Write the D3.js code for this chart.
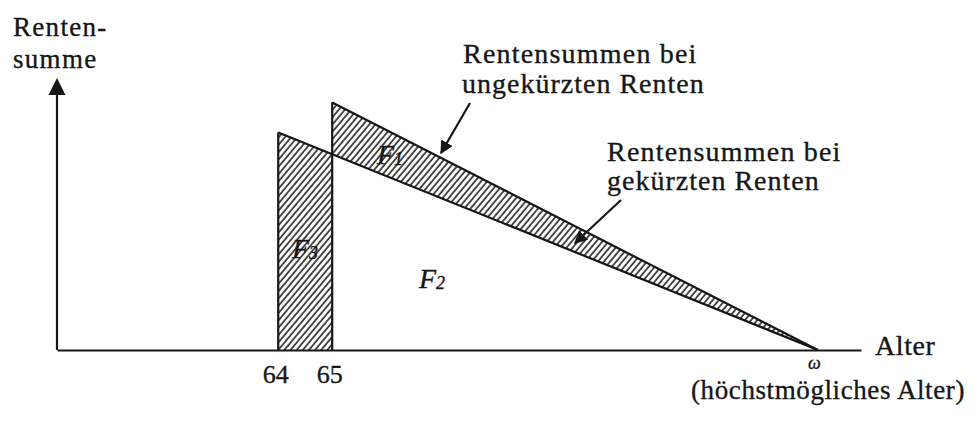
<!DOCTYPE html>
<html>
<head>
<meta charset="utf-8">
<script src="https://cdn.jsdelivr.net/npm/d3@7"></script>
<style>
    body { margin: 0; background: #fff; }
    svg { display: block; font-family: 'Liberation Serif', 'DejaVu Serif', serif; }
    .ink { stroke: #161616; fill: none; stroke-width: 2.2; }
    text { fill: #161616; stroke: #161616; stroke-width: 0.35; }
</style>
</head>
<body>
<svg id="chart" width="978" height="421"></svg>
<script>
// Data (Rentensumme in arbitrary units 0..100)
const ageRange = [59.9, 74.8];          // visible part of the age axis
const sumRange = [0, 100];              // visible part of the sum axis
const tickAges = [64, 65, 74];
const tickLabels = ['64', '65', 'ω'];
const ungekuerzt = [{ age: 65, sum: 91 }, { age: 74, sum: 0 }];   // Rentensummen bei ungekürzten Renten
const gekuerzt = [{ age: 64, sum: 80 }, { age: 74, sum: 0 }];     // Rentensummen bei gekürzten Renten

const chart = (function () {

    let d3svg = d3.select('#chart'),
        xScale = d3.scaleLinear().domain(ageRange).range([57, 861]),
        yScale = d3.scaleLinear().domain(sumRange).range([350, 78]),
        line = d3.line().x((d) => xScale(d.age)).y((d) => yScale(d.sum))
    ;

    // sum on the shortened line at a given age
    function gekuerztAt(age) {
        let t = (age - gekuerzt[0].age) / (gekuerzt[1].age - gekuerzt[0].age);
        return gekuerzt[0].sum + t * (gekuerzt[1].sum - gekuerzt[0].sum);
    }

    // Hatch pattern
    let defs = d3svg.append('defs');
    defs.append('pattern')
        .attr('id', 'hatch')
        .attr('patternUnits', 'userSpaceOnUse')
        .attr('width', 4.7)
        .attr('height', 10)
        .attr('patternTransform', 'rotate(40)')
        .append('line')
        .attr('x1', 1).attr('y1', 0)
        .attr('x2', 1).attr('y2', 10)
        .attr('stroke', '#161616')
        .attr('stroke-width', 1.5);

    defs.append('marker')
        .attr('id', 'tip')
        .attr('viewBox', '0 0 10 10')
        .attr('refX', 9).attr('refY', 5)
        .attr('markerWidth', 6).attr('markerHeight', 6)
        .attr('markerUnits', 'strokeWidth')
        .attr('orient', 'auto')
        .append('path')
        .attr('d', 'M0,0L10,5L0,10Z')
        .attr('fill', '#161616');

    // Hatched areas F3 (64..65) and F1 (between both lines from 65 on)
    let a0 = gekuerzt[0].age, a1 = ungekuerzt[0].age, end = ungekuerzt[1].age;
    let f3 = [
        { age: a0, sum: 0 }, { age: a0, sum: gekuerzt[0].sum },
        { age: a1, sum: gekuerztAt(a1) }, { age: a1, sum: 0 }
    ];
    let f1 = [
        { age: a1, sum: ungekuerzt[0].sum }, { age: end, sum: 0 },
        { age: a1, sum: gekuerztAt(a1) }
    ];
    d3svg.append('path').datum(f3).attr('d', (d) => line(d) + 'Z').attr('fill', 'url(#hatch)');
    d3svg.append('path').datum(f1).attr('d', (d) => line(d) + 'Z').attr('fill', 'url(#hatch)');

    // x axis (baseline)
    let xAxis = d3.axisBottom(xScale)
        .tickValues(tickAges)
        .tickFormat((d, i) => tickLabels[i])
        .tickSize(0)
        .tickSizeOuter(0);
    let gx = d3svg.append('g').attr('transform', 'translate(0,' + yScale(0) + ')').call(xAxis);
    gx.select('.domain').attr('stroke', '#161616').attr('stroke-width', 2.2);
    gx.selectAll('.tick text')
        .attr('font-family', "'Liberation Serif', serif")
        .attr('fill', '#161616')
        .attr('dy', 0)
        .attr('y', (d, i) => tickLabels[i] === 'ω' ? 19 : 33)
        .attr('dx', (d, i) => tickLabels[i] === 'ω' ? -4 : -3)
        .attr('font-size', (d, i) => tickLabels[i] === 'ω' ? 18 : 26)
        .attr('font-style', (d, i) => tickLabels[i] === 'ω' ? 'italic' : 'normal');

    // y axis with arrow head
    let yTop = yScale(sumRange[1]);
    d3svg.append('line').attr('class', 'ink')
        .attr('x1', xScale(ageRange[0])).attr('x2', xScale(ageRange[0]))
        .attr('y1', yScale(0)).attr('y2', yTop + 14);
    d3svg.append('path')
        .attr('d', 'M' + xScale(ageRange[0]) + ',' + yTop + 'l8.5,17h-17Z')
        .attr('fill', '#161616');

    // Lines
    d3svg.append('path').datum(gekuerzt).attr('class', 'ink').attr('d', line);
    d3svg.append('path').datum(ungekuerzt).attr('class', 'ink').attr('d', line);
    d3svg.append('path').datum([{ age: a0, sum: 0 }, gekuerzt[0]]).attr('class', 'ink').attr('d', line);
    d3svg.append('path').datum([{ age: a1, sum: 0 }, ungekuerzt[0]]).attr('class', 'ink').attr('d', line);

    // Labels
    function label(txt, x, y, size, spacing, anchor) {
        return d3svg.append('text')
            .attr('x', x).attr('y', y)
            .attr('font-size', size)
            .attr('letter-spacing', spacing)
            .attr('text-anchor', anchor || 'start')
            .text(txt);
    }
    label('Renten-', 13, 36, 27, 1.3);
    label('summe', 13, 68, 27, 1.3);
    label('Rentensummen bei', 463, 63, 28, 1.2);
    label('ungekürzten Renten', 462, 93, 28, 1.0);
    label('Rentensummen bei', 607, 161, 28, 1.2);
    label('gekürzten Renten', 607, 190, 28, 1.0);
    label('Alter', 875, 355, 28, 0.6);
    label('(höchstmögliches Alter)', 965, 399, 27, 0.6, 'end');

    // Area names
    function areaName(sub, x, y) {
        let t = d3svg.append('text').attr('x', x).attr('y', y)
            .attr('font-size', 28).attr('font-style', 'italic');
        t.append('tspan').text('F');
        t.append('tspan').attr('font-size', 18).attr('dy', 1).text(sub);
    }
    areaName('1', 377, 164);
    areaName('2', 419, 288);
    areaName('3', 292, 258);

    // Pointer arrows
    d3svg.append('line').attr('class', 'ink').attr('stroke-width', 1.8)
        .attr('x1', 470).attr('y1', 103).attr('x2', 441).attr('y2', 153)
        .attr('marker-end', 'url(#tip)');
    d3svg.append('line').attr('class', 'ink').attr('stroke-width', 1.8)
        .attr('x1', 621).attr('y1', 200).attr('x2', 575).attr('y2', 243)
        .attr('marker-end', 'url(#tip)');

}());
</script>
</body>
</html>
